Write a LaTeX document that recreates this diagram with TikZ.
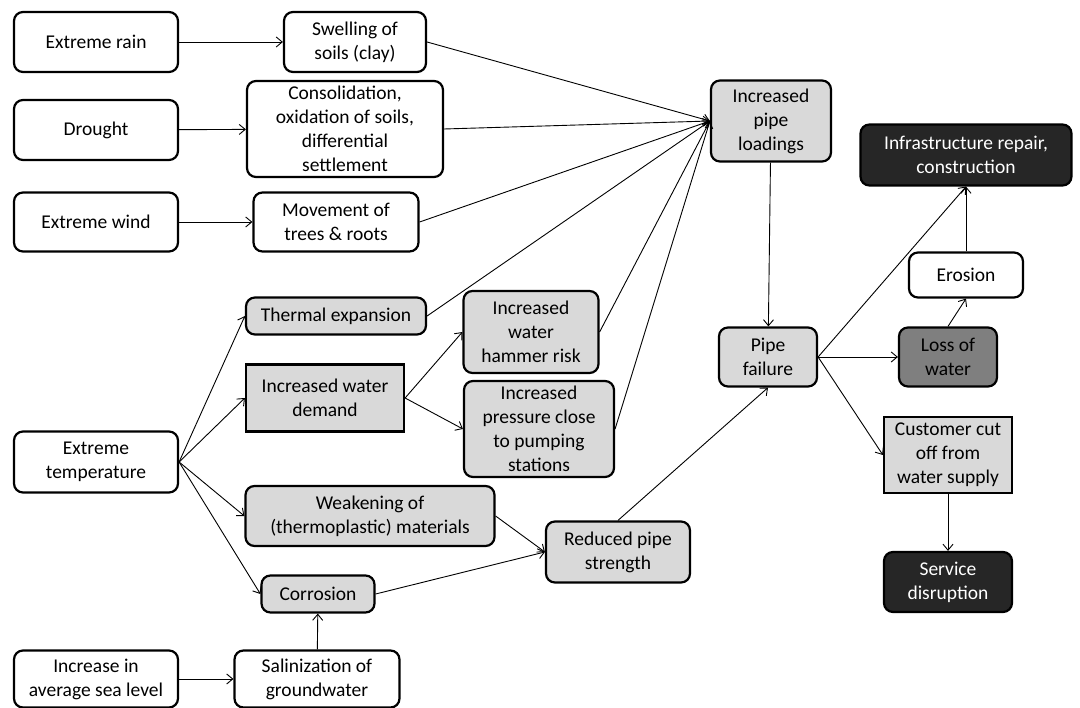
\documentclass[tikz,border=0pt]{standalone}
\usepackage{fontspec}
\setmainfont{Carlito}
\usetikzlibrary{arrows.meta}
\definecolor{lgray}{HTML}{D9D9D9}
\definecolor{mgray}{HTML}{7F7F7F}
\definecolor{dgray}{HTML}{262626}
\begin{document}
\begin{tikzpicture}[x=1pt,y=-1pt,
  bx/.style={draw=black, line width=2.2pt, rounded corners=9pt, align=center, inner sep=0pt, fill=white,
    font=\fontsize{19.5}{24}\selectfont},
  sq/.style={rounded corners=0pt},
  lg/.style={fill=lgray},
  mg/.style={fill=mgray},
  dk/.style={fill=dgray, text=white},
  ar/.style={-{Straight Barb[length=6pt,width=10pt]}, line width=0.9pt}]
\useasboundingbox (0,0) rectangle (1080,708);
\fill[white] (0,0) rectangle (1080,708);

\node[bx, minimum width=164pt, minimum height=60pt] (rain) at (96,42) {Extreme rain};
\node[bx, minimum width=142pt, minimum height=60pt] (swell) at (355,42) {Swelling of\\soils (clay)};
\node[bx, minimum width=164pt, minimum height=60pt] (drought) at (96,130) {Drought};
\node[bx, minimum width=196pt, minimum height=96pt] (consol) at (345,129) {Consolidation,\\oxidation of soils,\\differential\\settlement};
\node[bx, minimum width=164pt, minimum height=59pt] (wind) at (96,222) {Extreme wind};
\node[bx, minimum width=165pt, minimum height=59pt] (move) at (336,222) {Movement of\\trees \& roots};
\node[bx, lg, minimum width=120pt, minimum height=81pt] (load) at (771,121) {Increased\\pipe\\loadings};
\node[bx, dk, minimum width=211pt, minimum height=61pt] (infra) at (966,155) {Infrastructure repair,\\construction};
\node[bx, minimum width=114pt, minimum height=45pt] (erosion) at (966,275) {Erosion};
\node[bx, lg, minimum width=98pt, minimum height=59pt] (fail) at (768,357) {Pipe\\failure};
\node[bx, mg, minimum width=98pt, minimum height=59pt] (loss) at (948,357) {Loss of\\water};
\node[bx, sq, lg, minimum width=128pt, minimum height=76pt] (cust) at (948,455) {Customer cut\\off from\\water supply};
\node[bx, dk, minimum width=128pt, minimum height=60pt] (serv) at (948,582) {Service\\disruption};
\node[bx, lg, minimum width=180pt, minimum height=37pt] (therm) at (336,316) {Thermal expansion};
\node[bx, sq, lg, minimum width=158pt, minimum height=67pt] (demand) at (325,398) {Increased water\\demand};
\node[bx, lg, minimum width=135pt, minimum height=82pt] (hammer) at (531,332) {Increased\\water\\hammer risk};
\node[bx, lg, minimum width=150pt, minimum height=96pt] (press) at (539,429) {Increased\\pressure close\\to pumping\\stations};
\node[bx, minimum width=164pt, minimum height=61pt] (temp) at (96,462) {Extreme\\temperature};
\node[bx, lg, minimum width=249pt, minimum height=60pt] (weak) at (370,516) {Weakening of\\(thermoplastic) materials};
\node[bx, lg, minimum width=144pt, minimum height=61pt] (reduced) at (618,552) {Reduced pipe\\strength};
\node[bx, lg, minimum width=113pt, minimum height=37pt] (corr) at (318,594) {Corrosion};
\node[bx, minimum width=164pt, minimum height=57pt] (sea) at (96,679) {Increase in\\average sea level};
\node[bx, minimum width=165pt, minimum height=57pt] (salin) at (317,679) {Salinization of\\groundwater};

\draw[ar] (rain) -- (swell);
\draw[ar] (drought) -- (consol);
\draw[ar] (wind) -- (move);
\draw[ar] (swell.east) -- (load.west);
\draw[ar] (consol.east) -- (load.west);
\draw[ar] (move.east) -- (load.west);
\draw[ar] (therm.east) -- (load.west);
\draw[ar] (hammer.east) -- (load.west);
\draw[ar] (press.east) -- (load.west);
\draw[ar] (load) -- (fail);
\draw[ar] (temp.east) -- (therm.west);
\draw[ar] (temp.east) -- (demand.west);
\draw[ar] (temp.east) -- (weak.west);
\draw[ar] (temp.east) -- (corr.west);
\draw[ar] (demand.east) -- (hammer.west);
\draw[ar] (demand.east) -- (press.west);
\draw[ar] (weak.east) -- (reduced.west);
\draw[ar] (corr.east) -- (reduced.west);
\draw[ar] (reduced.north) -- (fail.south);
\draw[ar] (sea) -- (salin);
\draw[ar] (salin) -- (corr);
\draw[ar] (fail.east) -- (infra.south);
\draw[ar] (fail.east) -- (loss.west);
\draw[ar] (fail.east) -- (cust.west);
\draw[ar] (loss.north) -- (erosion.south);
\draw[ar] (erosion) -- (infra);
\draw[ar] (cust) -- (serv);
\end{tikzpicture}
\end{document}
